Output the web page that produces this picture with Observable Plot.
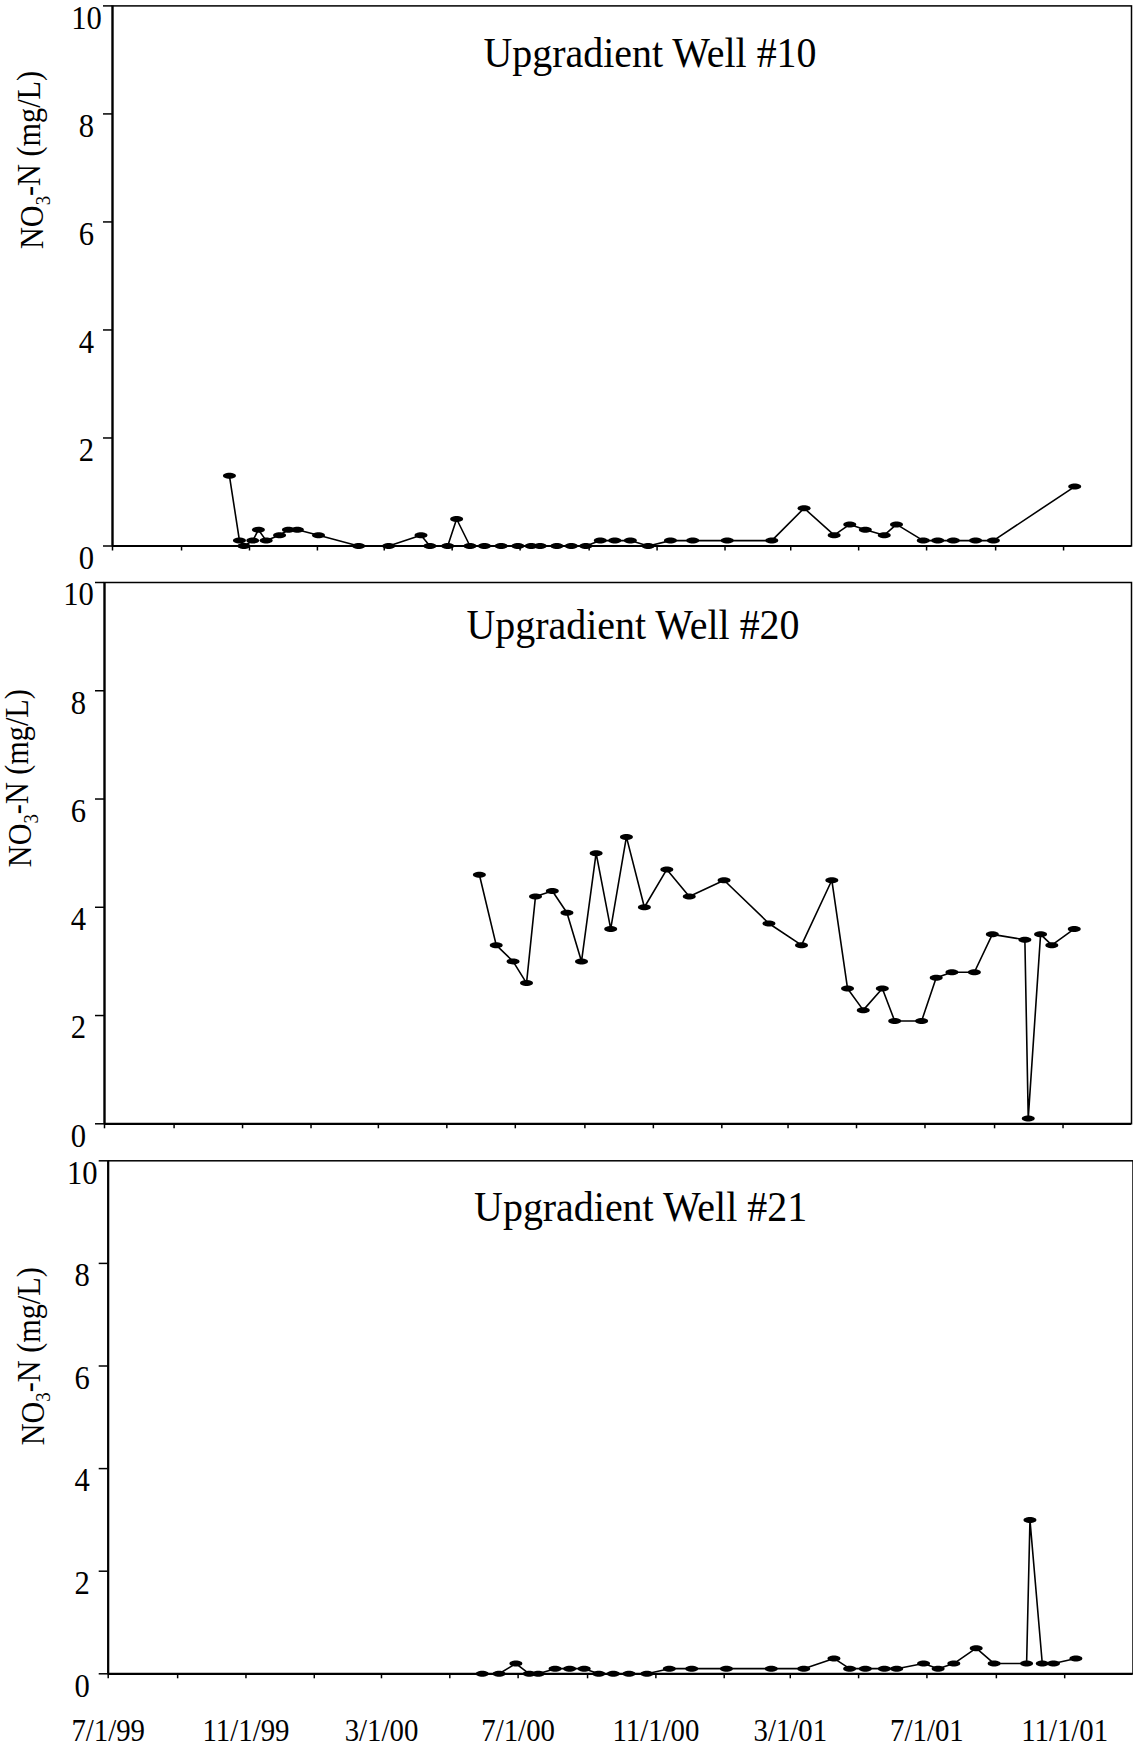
<!DOCTYPE html>
<html>
<head>
<meta charset="utf-8">
<script src="https://cdn.jsdelivr.net/npm/d3@7"></script>
<script src="https://cdn.jsdelivr.net/npm/@observablehq/plot@0.6"></script>
<style>
  body { margin: 0; background: white; }
  #chart { position: relative; width: 1133px; height: 1752px; }
  #chart svg { position: absolute; left: 0; top: 0; }
</style>
</head>
<body>
<div id="chart"></div>
<script>
// well #10
const dates10 = [
  "1999-10-14", "1999-10-23", "1999-10-27", "1999-11-04", "1999-11-09", "1999-11-16",
  "1999-11-28", "1999-12-06", "1999-12-14", "2000-01-02", "2000-02-07", "2000-03-05",
  "2000-04-03", "2000-04-11", "2000-04-27", "2000-05-05", "2000-05-17", "2000-05-30",
  "2000-06-14", "2000-06-29", "2000-07-11", "2000-07-19", "2000-08-03", "2000-08-16",
  "2000-08-29", "2000-09-11", "2000-09-24", "2000-10-08", "2000-10-24", "2000-11-13",
  "2000-12-03", "2001-01-03", "2001-02-12", "2001-03-13", "2001-04-09", "2001-04-23",
  "2001-05-07", "2001-05-24", "2001-06-04", "2001-06-28", "2001-07-11", "2001-07-25",
  "2001-08-14", "2001-08-30", "2001-11-11"
];
const no3_10 = [
  1.3, 0.1, 0.0, 0.1, 0.3, 0.1,
  0.2, 0.3, 0.3, 0.2, 0.0, 0.0,
  0.2, 0.0, 0.0, 0.5, 0.0, 0.0,
  0.0, 0.0, 0.0, 0.0, 0.0, 0.0,
  0.0, 0.1, 0.1, 0.1, 0.0, 0.1,
  0.1, 0.1, 0.1, 0.7, 0.2, 0.4,
  0.3, 0.2, 0.4, 0.1, 0.1, 0.1,
  0.1, 0.1, 1.1
];

// wells #20 and #21 share sampling dates
const dates20 = [
  "2000-05-30", "2000-06-14", "2000-06-29", "2000-07-11", "2000-07-19", "2000-08-03",
  "2000-08-16", "2000-08-29", "2000-09-11", "2000-09-24", "2000-10-08", "2000-10-24",
  "2000-11-13", "2000-12-03", "2001-01-03", "2001-02-12", "2001-03-13", "2001-04-09",
  "2001-04-23", "2001-05-07", "2001-05-24", "2001-06-04", "2001-06-28", "2001-07-11",
  "2001-07-25", "2001-08-14", "2001-08-30", "2001-09-28", "2001-10-01", "2001-10-12",
  "2001-10-22", "2001-11-11"
];
const no3_20 = [
  4.6, 3.3, 3.0, 2.6, 4.2, 4.3,
  3.9, 3.0, 5.0, 3.6, 5.3, 4.0,
  4.7, 4.2, 4.5, 3.7, 3.3, 4.5,
  2.5, 2.1, 2.5, 1.9, 1.9, 2.7,
  2.8, 2.8, 3.5, 3.4, 0.1, 3.5,
  3.3, 3.6
];
const dates21 = dates20;
const no3_21 = [
  0.0, 0.0, 0.2, 0.0, 0.0, 0.1,
  0.1, 0.1, 0.0, 0.0, 0.0, 0.0,
  0.1, 0.1, 0.1, 0.1, 0.1, 0.3,
  0.1, 0.1, 0.1, 0.1, 0.2, 0.1,
  0.2, 0.5, 0.2, 0.2, 3.0, 0.2,
  0.2, 0.3
];

const yTicks = [0, 2, 4, 6, 8, 10];
const xLabelDates = ["1999-07-01", "1999-11-01", "2000-03-01", "2000-07-01", "2000-11-01", "2001-03-01", "2001-07-01", "2001-11-01"];
const xTickLabels = ["7/1/99", "11/1/99", "3/1/00", "7/1/00", "11/1/00", "3/1/01", "7/1/01", "11/1/01"];
const yLabel = "NO3-N (mg/L)";
const titles = ["Upgradient Well #10", "Upgradient Well #20", "Upgradient Well #21"];

const parse = (s) => new Date(s + "T00:00:00Z");
const xDomain = [parse("1999-07-01"), parse("2002-01-01")];
const xTicks = d3.utcMonth.every(2).range(parse("1999-07-01"), parse("2001-11-02"));

// flat ellipse marker
const ellipse = {
  draw(ctx) {
    const rx = 6.5, ry = 3, k = 0.5523;
    ctx.moveTo(rx, 0);
    ctx.bezierCurveTo(rx, ry * k, rx * k, ry, 0, ry);
    ctx.bezierCurveTo(-rx * k, ry, -rx, ry * k, -rx, 0);
    ctx.bezierCurveTo(-rx, -ry * k, -rx * k, -ry, 0, -ry);
    ctx.bezierCurveTo(rx * k, -ry, rx, -ry * k, rx, 0);
    ctx.closePath();
  }
};

const font = "'Liberation Serif', 'Times New Roman', serif";

function panel(dates, values, opts) {
  const data = dates.map((d, i) => ({date: parse(d), value: values[i]}));
  const marks = [
    Plot.frame({stroke: "black", strokeWidth: 1.5}),
    Plot.axisY({ticks: yTicks, tickSize: 9, tickFormat: () => "", strokeWidth: 1.5}),
    Plot.axisX({ticks: xTicks, tickSize: 5, tickFormat: () => "", strokeWidth: 1.5}),
    Plot.ruleX([xDomain[0]], {stroke: "black", strokeWidth: 2.2}),
    Plot.ruleY([0], {stroke: "black", strokeWidth: 2.2}),
    Plot.text(yTicks, {y: (d) => d, text: (d) => String(d), frameAnchor: "left",
      dx: -26, dy: 12, textAnchor: "middle", fontSize: 34}),
    Plot.text([opts.title], {frameAnchor: "top", lineAnchor: "bottom",
      dx: opts.titleDx, dy: opts.titleDy, fontSize: 42.5}),
    Plot.text([yLabel], {frameAnchor: "left", rotate: -90,
      dx: opts.labelDx, dy: opts.labelDy, fontSize: 34}),
    Plot.line(data, {x: "date", y: "value", stroke: "black", strokeWidth: 1.6}),
    Plot.dot(data, {x: "date", y: "value", symbol: ellipse, fill: "black", stroke: "none"})
  ];
  if (opts.xLabels) {
    marks.push(Plot.text(xLabelDates, {x: (d) => parse(d), text: (d, i) => xTickLabels[i],
      frameAnchor: "bottom", lineAnchor: "middle", dy: 57, fontSize: 32}));
  }
  return Plot.plot({
    width: 1133,
    height: 1752,
    marginTop: opts.top,
    marginBottom: 1752 - opts.bottom,
    marginLeft: opts.left,
    marginRight: 1133 - opts.right,
    x: {type: "utc", domain: xDomain, label: null},
    y: {domain: [0, 10], label: null},
    style: {background: "transparent", fontFamily: font, color: "black", overflow: "visible"},
    marks
  });
}

const root = d3.select("#chart");
const charts = [
  panel(dates10, no3_10, {
    top: 5.4, bottom: 545.5, left: 112, right: 1131,
    title: titles[0], titleDx: 28, titleDy: 60.6, labelDx: -80, labelDy: -27
  }),
  panel(dates20, no3_20, {
    top: 582, bottom: 1123.3, left: 104, right: 1131,
    title: titles[1], titleDx: 15, titleDy: 56.3, labelDx: -84, labelDy: 14
  }),
  panel(dates21, no3_21, {
    top: 1160.3, bottom: 1673.3, left: 107.7, right: 1132.5,
    title: titles[2], titleDx: 20, titleDy: 59.7, labelDx: -75, labelDy: 28, xLabels: true
  })
];
charts.forEach((c) => root.append(() => c));

// the original lettering is narrow: squeeze text sideways, and set the subscript
charts.forEach((c) => {
  d3.select(c).selectAll("text").each(function () {
    const content = this.textContent;
    if (!content) return;
    const t = d3.select(this);
    if (content === yLabel) {
      t.text(null);
      t.append("tspan").text("NO");
      t.append("tspan").text("3").attr("font-size", "0.62em").attr("dy", "0.3em");
      t.append("tspan").text("-N (mg/L)").attr("dy", "-0.3em");
      t.attr("textLength", 178).attr("lengthAdjust", "spacingAndGlyphs");
    } else if (titles.includes(content)) {
      t.attr("textLength", 333).attr("lengthAdjust", "spacingAndGlyphs");
    } else {
      const len = this.getComputedTextLength();
      t.attr("textLength", len * 0.9).attr("lengthAdjust", "spacingAndGlyphs");
    }
  });
});
</script>
</body>
</html>
